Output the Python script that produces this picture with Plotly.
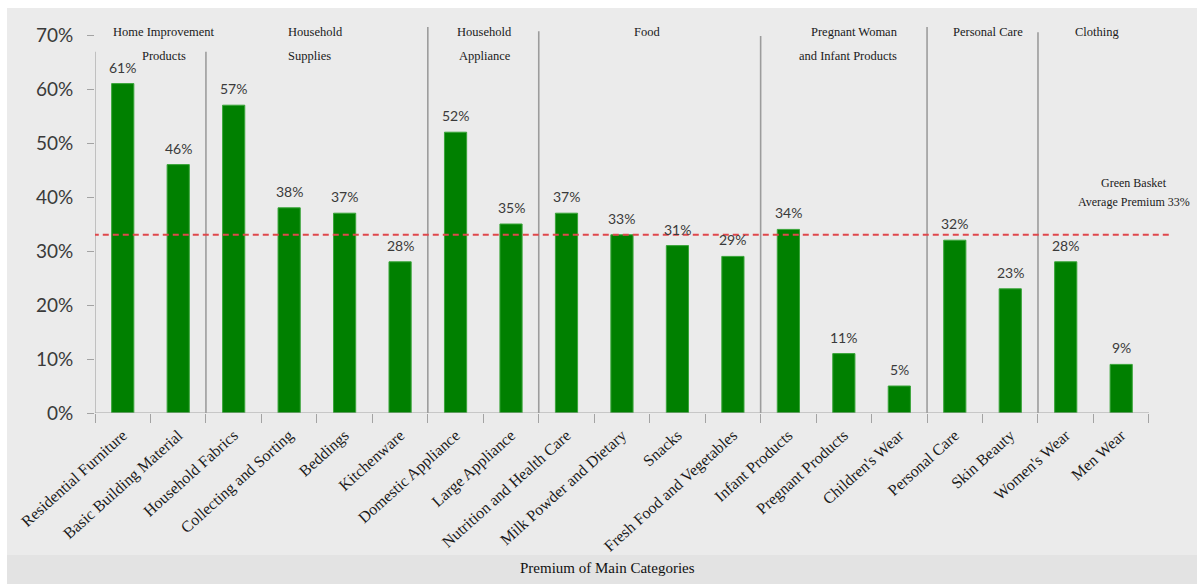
import plotly.graph_objects as go

# Premium by product category (percent)
categories = [
    "Residential Furniture", "Basic Building Material", "Household Fabrics",
    "Collecting and Sorting", "Beddings", "Kitchenware", "Domestic Appliance",
    "Large Appliance", "Nutrition and Health Care", "Milk Powder and Dietary",
    "Snacks", "Fresh Food and Vegetables", "Infant Products", "Pregnant Products",
    "Children's Wear", "Personal Care", "Skin Beauty", "Women's Wear", "Men Wear",
]
premium = [61, 46, 57, 38, 37, 28, 52, 35, 37, 33, 31, 29, 34, 11, 5, 32, 23, 28, 9]

# Main category groups: header lines and number of sub-categories in each
group_titles = [
    ["Home Improvement", "Products"],
    ["Household", "Supplies"],
    ["Household", "Appliance"],
    ["Food"],
    ["Pregnant Woman", "and Infant Products"],
    ["Personal Care"],
    ["Clothing"],
]
group_sizes = [2, 4, 2, 4, 3, 2, 2]

average_premium = 33
y_ticks = [0, 10, 20, 30, 40, 50, 60, 70]

# ---- styling ----
W, H = 1197, 584
L, R, T, B = 95, 0, 20, 171
CAT_W = 55.47            # pixels per category
PX_PER_PCT = 5.4         # pixels per percent
plot_w = W - L - R
plot_h = H - T - B
x_max = -0.5 + plot_w / CAT_W
y_max = plot_h / PX_PER_PCT

GREEN = "#008000"
AXIS_GREY = "#a3a3a3"
DIVIDER_GREY = "#9c9c9c"
BG = "#ebebeb"
SERIF = "Liberation Serif, Times New Roman, serif"
SANS = "Lato, Open Sans, sans-serif"

def px_x(px):
    return (px - L) / plot_w

def px_y(py):
    return (H - B - py) / plot_h

fig = go.Figure()
fig.add_trace(go.Bar(
    x=categories, y=premium, width=0.4,
    marker=dict(color=GREEN, line=dict(color="#3aa53a", width=1)),
    hoverinfo="x+y",
))

shapes = []
# chart background (white margin on top and left)
shapes.append(dict(type="rect", xref="paper", yref="paper", layer="below",
                   x0=px_x(7), x1=px_x(W + 2), y0=px_y(H + 2), y1=px_y(8),
                   fillcolor=BG, line=dict(width=0)))
shapes.append(dict(type="rect", xref="paper", yref="paper", layer="below",
                   x0=px_x(7), x1=px_x(W + 2), y0=px_y(H + 2), y1=px_y(555),
                   fillcolor="#e3e3e3", line=dict(width=0)))

# x axis line
shapes.append(dict(type="line", xref="x", yref="y", x0=-0.5, x1=len(categories) - 0.5,
                   y0=0, y1=0, line=dict(color=AXIS_GREY, width=1.2)))

# group dividers (first one doubles as the y axis line)
divider_tops = [66.9, 66.9, 71.5, 70.7, 69.8, 71.5, 70.5]
bounds = [0]
for s in group_sizes:
    bounds.append(bounds[-1] + s)
for i, b in enumerate(bounds[:-1]):
    shapes.append(dict(type="line", xref="x", yref="y", x0=b - 0.5, x1=b - 0.5,
                       y0=0, y1=divider_tops[i],
                       line=dict(color=AXIS_GREY if i == 0 else DIVIDER_GREY,
                                 width=1.2 if i == 0 else 1.6)))

# average premium reference line
shapes.append(dict(type="line", xref="x", yref="y", x0=-0.54, x1=18.88,
                   y0=average_premium, y1=average_premium,
                   line=dict(color="#e0474c", width=2, dash="6px,4px")))

annotations = []
# value labels
for c, v in zip(categories, premium):
    annotations.append(dict(x=c, y=v, xref="x", yref="y", text=f"{v}%",
                            showarrow=False, yanchor="bottom", yshift=6,
                            font=dict(family=SANS, size=14, color="#3a3a3a")))

# group headers
header_shift = [[14, 14], [-1, -7], [1, 2], [-3], [11, 4], [5], [4]]
header_rows = [70.6, 66.1]
for i, lines in enumerate(group_titles):
    center = (bounds[i] + bounds[i + 1]) / 2 - 0.5
    for j, line in enumerate(lines):
        annotations.append(dict(x=center, y=header_rows[j], xref="x", yref="y",
                                text=line, showarrow=False, xshift=header_shift[i][j],
                                yanchor="middle",
                                font=dict(family=SERIF, size=12.5, color="#1a1a1a")))

# average premium caption
for text, yy in (("Green Basket", 42.6), (f"Average Premium {average_premium}%", 39.1)):
    annotations.append(dict(x=18.23, y=yy, xref="x", yref="y", text=text,
                            showarrow=False, yanchor="middle",
                            font=dict(family=SERIF, size=12, color="#1a1a1a")))

# axis title
annotations.append(dict(x=px_x(607), y=px_y(568), xref="paper", yref="paper",
                        text="Premium of Main Categories", showarrow=False,
                        xanchor="center", yanchor="middle",
                        font=dict(family=SERIF, size=15, color="#111111")))

fig.update_layout(
    width=W, height=H,
    margin=dict(l=L, r=R, t=T, b=B, pad=0),
    paper_bgcolor="white",
    plot_bgcolor="rgba(0,0,0,0)",
    showlegend=False,
    bargap=0.6,
    shapes=shapes,
    annotations=annotations,
    xaxis=dict(
        type="category", range=[-0.5, x_max], showgrid=False, zeroline=False,
        showline=False, ticks="outside", tickson="boundaries", ticklen=9,
        tickcolor=AXIS_GREY, tickwidth=1, tickangle=-42, ticklabelstandoff=9,
        tickfont=dict(family=SERIF, size=16, color="#1a1a1a"),
    ),
    yaxis=dict(
        range=[0, y_max], tickvals=y_ticks, ticktext=[f"{t}%" for t in y_ticks],
        showgrid=False, zeroline=False, showline=False, ticks="outside",
        ticklen=7, tickcolor=AXIS_GREY, ticklabelstandoff=10,
        tickfont=dict(family=SANS, size=19, color="#3a3a3a"),
    ),
)

fig.write_html("out.html")
